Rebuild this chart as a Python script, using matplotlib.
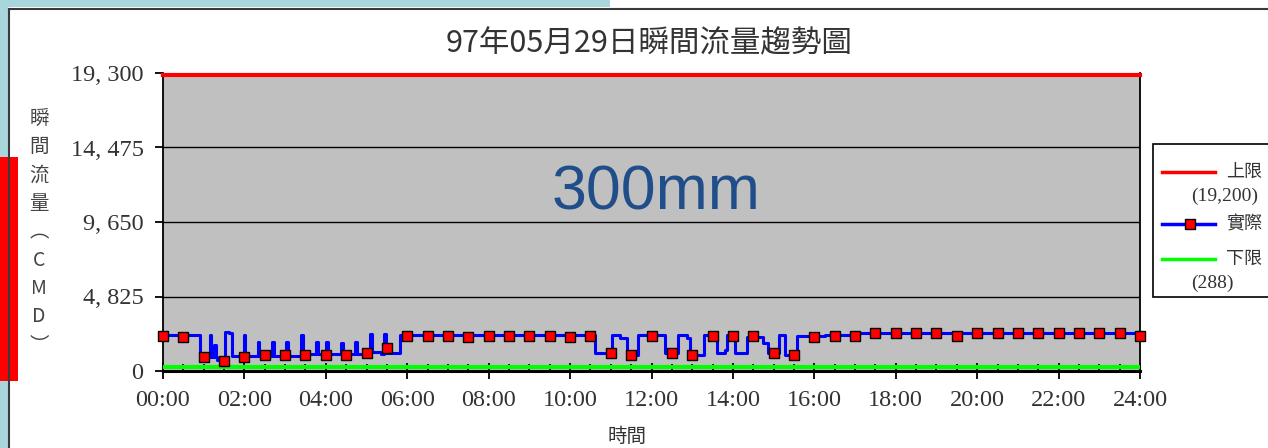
import numpy as np
import matplotlib.pyplot as plt
from matplotlib.patches import Rectangle
from matplotlib.lines import Line2D

# ---- chart text ----
title = "97年05月29日瞬間流量趨勢圖"
ylabel_chars = ["瞬", "間", "流", "量", "︵", "C", "M", "D", "︶"]
xlabel = "時間"
overlay_text = "300mm"

y_ticks = [0, 4825, 9650, 14475, 19300]
y_tick_labels = ["0", "4, 825", "9, 650", "14, 475", "19, 300"]
x_ticks = list(range(0, 25, 2))
x_tick_labels = [f"{h:02d}:00" for h in x_ticks]

upper_limit = 19200
lower_limit = 288
# legend is cut off by the slide edge in the source screenshot
legend_labels = [("上限", "(19,200)"), ("實際", ""), ("下限", "(288)")]

# ---- instantaneous flow trace (hour, CMD), step changes ----
flow_hours = [0.00, 0.92, 1.15, 1.19, 1.25, 1.29, 1.33, 1.52, 1.62, 1.70,
              1.98, 2.02, 2.33, 2.37, 2.68, 2.72, 3.03, 3.07, 3.40, 3.44,
              3.77, 3.81, 4.01, 4.05, 4.37, 4.41, 4.72, 4.76, 5.09, 5.13,
              5.35, 5.44, 5.48, 5.83, 10.60, 11.02, 11.23, 11.39, 11.68, 12.33,
              12.66, 12.87, 12.95, 13.28, 13.60, 13.80, 13.85, 14.05, 14.34, 14.75,
              14.87, 15.12, 15.28, 15.57, 16.27, 17.10, 24.00]
flow_values = [2360, 930, 2330, 930, 1680, 930, 710, 2540, 2450, 1000,
               2330, 1000, 1880, 1000, 1880, 1000, 1880, 1000, 2330, 1080,
               1880, 1080, 1880, 1080, 1810, 1080, 1880, 1080, 2400, 1200,
               1080, 2400, 1150, 2330, 1146, 2330, 2118, 1036, 2330, 1146,
               2330, 2118, 1036, 2330, 1146, 1360, 2330, 1146, 2222, 1814,
               1146, 2330, 1036, 2260, 2300, 2440, 2440]

# ---- half-hourly readings (markers), 00:00 .. 24:00 ----
marker_values = [2290, 2200, 910, 650, 910, 1040, 1040, 1040, 1040, 1040,
                 1150, 1470, 2290, 2290, 2290, 2200, 2290, 2290, 2290, 2290,
                 2220, 2290, 1150, 1040, 2290, 1150, 1040, 2290, 2290, 2290,
                 1150, 1040, 2200, 2290, 2290, 2440, 2440, 2440, 2440, 2290,
                 2440, 2440, 2440, 2440, 2440, 2440, 2440, 2440, 2290]
marker_hours = np.arange(len(marker_values)) * 0.5

W, H = 1268, 448
cjk = ["Noto Sans CJK TC", "DejaVu Sans"]
num_font = "Liberation Serif"


def fx(px):
    return px / W


def fy(py):
    return 1 - py / H


fig = plt.figure(figsize=(W / 100, H / 100), dpi=100)
fig.patch.set_facecolor("white")

# slide frame bits around the chart
fig.add_artist(Rectangle((0, 0), fx(8), 1, transform=fig.transFigure,
                         facecolor="#A9D6DC", edgecolor="none"))
fig.add_artist(Rectangle((0, fy(7)), fx(610), 7 / H, transform=fig.transFigure,
                         facecolor="#A9D6DC", edgecolor="none"))
fig.add_artist(Line2D([fx(9), 1], [fy(9), fy(9)], transform=fig.transFigure,
                      color="#3a3a3a", lw=1.5))
fig.add_artist(Line2D([fx(9), fx(9)], [0, fy(9)], transform=fig.transFigure,
                      color="#3a3a3a", lw=1.5))

ax = fig.add_axes([fx(163), fy(371), (1140 - 163) / W, (371 - 73) / H])
ax.set_facecolor("#C0C0C0")
ax.set_xlim(0, 24)
ax.set_ylim(0, 19300)
ax.set_axisbelow(True)

ax.grid(axis="y", color="black", lw=1)
ax.axhline(upper_limit, color="#FF0000", lw=3, zorder=4, clip_on=False)
ax.axhline(lower_limit, color="#00FF00", lw=3, zorder=3)
ax.step(flow_hours, flow_values, where="post", color="#0000FF", lw=2.2, zorder=4)
ax.plot(marker_hours, marker_values, ls="none", marker="s", ms=7,
        mfc="#FF0000", mec="black", mew=1, zorder=5, clip_on=False)

ax.spines["top"].set_visible(False)
ax.spines["left"].set_linewidth(1.3)
ax.spines["right"].set_linewidth(1.3)
ax.spines["bottom"].set_linewidth(2.2)

ax.set_yticks(y_ticks)
ax.set_yticklabels(y_tick_labels, fontfamily=num_font, fontsize=17.5, color="#333333")
ax.set_xticks(x_ticks)
ax.set_xticklabels(x_tick_labels, fontfamily=num_font, fontsize=17.5, color="#333333")
ax.set_xticks(np.arange(0, 24.01, 0.5), minor=True)
ax.tick_params(axis="y", direction="out", length=6, width=1.3, pad=8)
ax.tick_params(axis="x", which="major", direction="inout", length=11, width=1.3, pad=8)
ax.tick_params(axis="x", which="minor", direction="in", length=5, width=1.3)

fig.text(fx(649), fy(44), title, ha="center", va="center", fontsize=22,
         family=cjk, color="#333333")
fig.text(fx(627), fy(436), xlabel, ha="center", va="center", fontsize=14,
         family=cjk, color="#333333")
for i, ch in enumerate(ylabel_chars):
    fig.text(fx(39), fy(118 + i * 28.4), ch, ha="center", va="center",
             fontsize=14, family=cjk, color="#444444")

# legend box, running off the right edge as in the screenshot
fig.add_artist(Rectangle((fx(1153), fy(297)), fx(200), (297 - 144) / H,
                         transform=fig.transFigure, facecolor="white",
                         edgecolor="black", lw=1.2))
legend_rows = [(172, "#FF0000", False), (224, "#0000FF", True), (259, "#00FF00", False)]
for (py, col, mark), (lab, sub) in zip(legend_rows, legend_labels):
    fig.add_artist(Line2D([fx(1162), fx(1215)], [fy(py), fy(py)],
                          transform=fig.transFigure, color=col, lw=2.5))
    if mark:
        fig.add_artist(Line2D([fx(1190)], [fy(py)], transform=fig.transFigure,
                              marker="s", ms=7, mfc="#FF0000", mec="black", mew=1))
    fig.text(fx(1226), fy(py), lab, ha="left", va="center", fontsize=13,
             family=cjk, color="#333333")
    if sub:
        fig.text(fx(1191), fy(py + 24), sub, ha="left", va="center", fontsize=14,
                 family=num_font, color="#333333")

# overlay annotations from the slide
fig.add_artist(Rectangle((0, fy(381)), fx(18), (381 - 157) / H,
                         transform=fig.transFigure, facecolor="#FF0000",
                         edgecolor="none"))
fig.text(fx(656), fy(209), overlay_text, ha="center", va="baseline",
         fontsize=45, family="Liberation Sans", color="#1F4E8A")

fig.savefig("out.png", dpi=100)
